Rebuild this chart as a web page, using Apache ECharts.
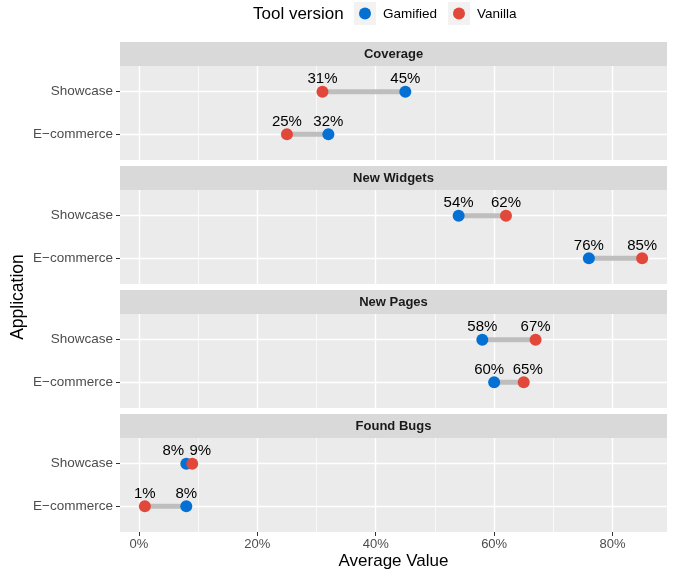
<!DOCTYPE html>
<html>
<head>
<meta charset="utf-8">
<script src="https://cdn.jsdelivr.net/npm/echarts@6/dist/echarts.min.js"></script>
<style>
html,body{margin:0;padding:0;background:#fff;}
#chart{width:675px;height:575px;}
</style>
</head>
<body>
<div id="chart"></div>
<script>
// ---- data ----
const categories = ['Showcase', 'E\u2212commerce'];
const facets = ['Coverage', 'New Widgets', 'New Pages', 'Found Bugs'];
const gamified = [[45, 32], [54, 76], [58, 60], [8, 8]];
const vanilla = [[31, 25], [62, 85], [67, 65], [9, 1]];
const xTicks = [0, 20, 40, 60, 80];
const xMinor = [10, 30, 50, 70];
const legendTitle = 'Tool version';
const seriesNames = ['Gamified', 'Vanilla'];

// ---- styling ----
const FONT = '"Liberation Sans", Arial, Helvetica, sans-serif';
const BLUE = '#0570D3';
const RED = '#E2483A';
const PANEL_LEFT = 120, PANEL_RIGHT = 667, PANEL_H = 94, STRIP_H = 24, FIRST_STRIP = 42, STEP = 124;
// label horizontal nudges (repel) for crowded pairs: key "facet-row" -> [gamified dx, vanilla dx]
const labelNudge = {'3-0': [-13, 8], '2-1': [-5, 4]};

const grids = [], xAxes = [], yAxes = [], series = [], graphics = [];

facets.forEach((f, i) => {
  const stripTop = FIRST_STRIP + i * STEP;
  const top = stripTop + STRIP_H;
  const last = i === facets.length - 1;
  grids.push({left: PANEL_LEFT, right: 675 - PANEL_RIGHT, top: top, height: PANEL_H,
    show: true, backgroundColor: '#EBEBEB', borderWidth: 0});
  xAxes.push({type: 'value', gridIndex: i, min: -3.2, max: 89.2, position: 'bottom',
    axisLine: {show: false, onZero: false}, splitLine: {show: false},
    axisTick: {show: last, customValues: xTicks, length: 4, lineStyle: {color: '#333', width: 1}},
    axisLabel: {show: last, customValues: xTicks, formatter: v => v + '%', color: '#4D4D4D',
      fontSize: 13, fontFamily: FONT, margin: 6}});
  yAxes.push({type: 'value', gridIndex: i, min: 0.4, max: 2.6, inverse: true, position: 'left',
    axisLine: {show: false, onZero: false}, splitLine: {show: false},
    axisTick: {show: true, customValues: [1, 2], length: 4, lineStyle: {color: '#333', width: 1}},
    axisLabel: {customValues: [1, 2], formatter: v => categories[Math.round(v) - 1] || '',
      color: '#4D4D4D', fontSize: 13.5, fontFamily: FONT, margin: 7}});

  // grid lines
  const ml = [];
  xTicks.forEach(x => ml.push({xAxis: x, lineStyle: {width: 1.4}}));
  xMinor.forEach(x => ml.push({xAxis: x, lineStyle: {width: 0.7}}));
  categories.forEach((c, r) => ml.push({yAxis: r + 1, lineStyle: {width: 1.4}}));
  series.push({type: 'line', xAxisIndex: i, yAxisIndex: i, data: [[0, 1]], symbol: 'none',
    lineStyle: {opacity: 0}, silent: true, animation: false, z: 1,
    markLine: {z: 1, silent: true, symbol: ['none', 'none'], animation: false, label: {show: false},
      lineStyle: {color: '#FFFFFF', type: 'solid'}, emphasis: {disabled: true}, data: ml}});

  // segments
  categories.forEach((c, r) => {
    series.push({type: 'line', xAxisIndex: i, yAxisIndex: i,
      data: [[gamified[i][r], r + 1], [vanilla[i][r], r + 1]],
      symbol: 'none', lineStyle: {color: '#BEBEBE', width: 5}, silent: true, animation: false, z: 10});
  });

  // points
  [[gamified, BLUE, 11], [vanilla, RED, 12]].forEach(([arr, col, z], k) => {
    series.push({type: 'scatter', name: seriesNames[k], xAxisIndex: i, yAxisIndex: i,
      data: arr[i].map((v, r) => [v, r + 1]),
      symbolSize: 12, itemStyle: {color: col, opacity: 1},
      label: {show: true, position: 'top', distance: -1, formatter: p => p.value[0] + '%',
        color: '#000', fontSize: 15, fontFamily: FONT},
      labelLayout: p => {
        const n = labelNudge[i + '-' + p.dataIndex];
        return n ? {dx: n[k], hideOverlap: false} : {hideOverlap: false};
      },
      clip: false, animation: false, z: z});
  });

  // strip
  graphics.push({type: 'rect', shape: {x: PANEL_LEFT, y: stripTop, width: PANEL_RIGHT - PANEL_LEFT, height: STRIP_H},
    style: {fill: '#D9D9D9'}, silent: true});
  graphics.push({type: 'text', x: (PANEL_LEFT + PANEL_RIGHT) / 2, y: stripTop + STRIP_H / 2,
    style: {text: f, fill: '#1A1A1A', font: 'bold 13px ' + FONT, align: 'center', verticalAlign: 'middle'}, silent: true});
});

// legend
graphics.push({type: 'text', x: 253, y: 14, style: {text: legendTitle, fill: '#000', font: '17px ' + FONT,
  align: 'left', verticalAlign: 'middle'}});
[[354, BLUE, 383], [448, RED, 477]].forEach(([x, col, tx], k) => {
  graphics.push({type: 'rect', shape: {x: x, y: 2, width: 22, height: 23}, style: {fill: '#F2F2F2'}});
  graphics.push({type: 'circle', shape: {cx: x + 11, cy: 13.5, r: 6}, style: {fill: col}});
  graphics.push({type: 'text', x: tx, y: 14, style: {text: seriesNames[k], fill: '#000', font: '13.5px ' + FONT,
    align: 'left', verticalAlign: 'middle'}});
});

// axis titles
graphics.push({type: 'text', x: 18, y: 297, rotation: Math.PI / 2,
  style: {text: 'Application', fill: '#000', font: '17.5px ' + FONT, align: 'center', verticalAlign: 'middle'}});
graphics.push({type: 'text', x: (PANEL_LEFT + PANEL_RIGHT) / 2, y: 561,
  style: {text: 'Average Value', fill: '#000', font: '17px ' + FONT, align: 'center', verticalAlign: 'middle'}});

const chart = echarts.init(document.getElementById('chart'), null, {renderer: 'canvas'});
chart.setOption({
  animation: false,
  backgroundColor: '#FFFFFF',
  grid: grids, xAxis: xAxes, yAxis: yAxes, series: series, graphic: graphics
});
</script>
</body>
</html>
